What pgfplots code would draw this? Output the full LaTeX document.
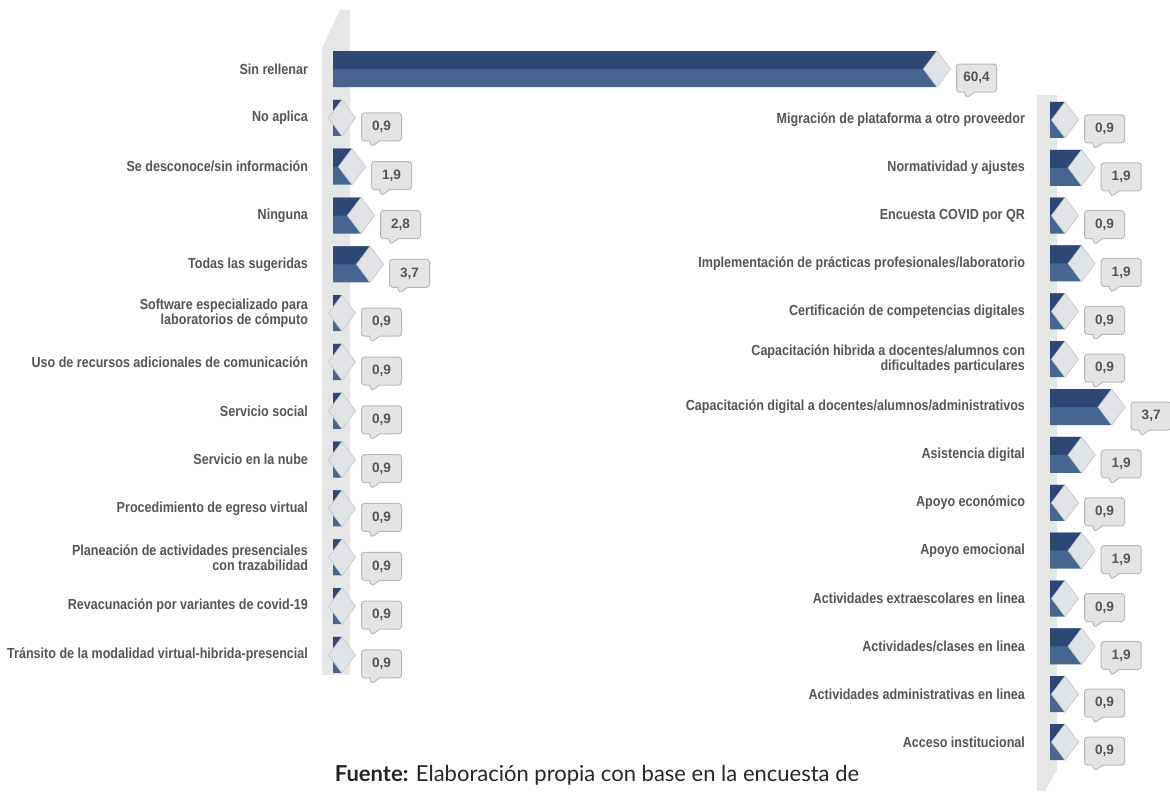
\documentclass[border=0pt]{standalone}
\usepackage{pgfplots}
\pgfplotsset{compat=1.18}
\usepackage{pgfplotstable}
\usepackage{fontspec}
\setmainfont{Liberation Sans}
\newfontfamily\lab[FakeStretch=0.86]{Liberation Sans}
\newfontfamily\lato{Lato}
\usetikzlibrary{shapes.callouts}

\definecolor{bartop}{HTML}{2F4775}
\definecolor{barbot}{HTML}{46668F}
\definecolor{labgray}{HTML}{555555}
\definecolor{wallgray}{HTML}{E6E6E6}
\definecolor{capgray}{HTML}{E2E3E6}
\definecolor{boxgray}{HTML}{E4E4E4}

% left column
\pgfplotstableread{
idx val
0 60.4
1 0.9
2 1.9
3 2.8
4 3.7
5 0.9
6 0.9
7 0.9
8 0.9
9 0.9
10 0.9
11 0.9
12 0.9
}\lefttab

% right column
\pgfplotstableread{
idx val
0 0.9
1 1.9
2 0.9
3 1.9
4 0.9
5 0.9
6 3.7
7 1.9
8 0.9
9 1.9
10 0.9
11 1.9
12 0.9
13 0.9
}\righttab

\pgfplotsset{
  panel/.style={
    xbar, scale only axis, clip=false,
    y dir=reverse, xmin=0, ymin=-0.5,
    axis line style={draw=none}, xtick=\empty,
    major tick length=0pt,
    yticklabel style={font=\lab\bfseries\fontsize{7.3}{7.6}\selectfont,
      text=labgray, align=right, xshift=-9pt},
  },
  capmark/.style={only marks, mark=diamond*, mark size=9pt,
    mark options={fill=capgray, draw=gray!40, line width=0.4pt}},
  lowbar/.style={fill=barbot, draw=none, bar width=18pt, bar shift=0pt,
    nodes near coords={\pgfmathprintnumber[fixed,fixed zerofill,precision=1,use comma,assume math mode=true]{\pgfplotspointmeta}},
    nodes near coords style={shape=rectangle callout,
      callout relative pointer={(-1.5pt,-3pt)}, callout pointer width=5pt,
      fill=boxgray, draw=gray!55, line width=0.5pt, rounded corners=1.5pt,
      minimum width=20pt, minimum height=14pt, inner sep=1pt,
      font=\bfseries\fontsize{6.8}{8}\selectfont, text=labgray,
      anchor=west, xshift=9.5pt, yshift=-4.5pt}},
  highbar/.style={fill=bartop, draw=none, bar width=9pt, bar shift=4.5pt},
}

\begin{document}
\begin{tikzpicture}
\useasboundingbox (0,0) rectangle (585pt,395.5pt);

% walls behind the bars
\fill[wallgray] (161pt,371.5pt) -- (170pt,390.5pt) -- (175pt,390.5pt) -- (175pt,58pt) -- (161pt,58pt) -- cycle;
\fill[wallgray] (518.5pt,348pt) -- (528.5pt,348pt) -- (528.5pt,10.5pt) -- (522.5pt,0pt) -- (518.5pt,0pt) -- cycle;

\begin{axis}[panel,
  at={(166.5pt,373.2pt)}, anchor=north west,
  width=315pt, height=317.4pt,
  xmax=63, ymax=12.5,
  ytick={0,...,12},
  yticklabels={Sin rellenar, No aplica, Se desconoce/sin información, Ninguna,
    Todas las sugeridas, {Software especializado para\\laboratorios de cómputo},
    Uso de recursos adicionales de comunicación, Servicio social,
    Servicio en la nube, Procedimiento de egreso virtual,
    {Planeación de actividades presenciales\\con trazabilidad},
    Revacunación por variantes de covid-19,
    Tránsito de la modalidad virtual-hibrida-presencial},
]
\addplot[capmark] table[x=val, y=idx] {\lefttab};
\addplot[lowbar] table[x=val, y=idx] {\lefttab};
\addplot[highbar] table[x=val, y=idx] {\lefttab};
\end{axis}

\begin{axis}[panel,
  at={(525pt,347.5pt)}, anchor=north west,
  width=50pt, height=335pt,
  xmax=6, ymax=13.5,
  ytick={0,...,13},
  yticklabels={Migración de plataforma a otro proveedor, Normatividad y ajustes,
    Encuesta COVID por QR, Implementación de prácticas profesionales/laboratorio,
    Certificación de competencias digitales,
    {Capacitación hibrida a docentes/alumnos con\\dificultades particulares},
    Capacitación digital a docentes/alumnos/administrativos, Asistencia digital,
    Apoyo económico, Apoyo emocional, Actividades extraescolares en linea,
    Actividades/clases en linea, Actividades administrativas en linea,
    Acceso institucional},
]
\addplot[capmark] table[x=val, y=idx] {\righttab};
\addplot[lowbar] table[x=val, y=idx] {\righttab};
\addplot[highbar] table[x=val, y=idx] {\righttab};
\end{axis}

\node[font=\lato\fontsize{11}{13}\selectfont, text=black!85] at (298.5pt,8pt)
  {\textbf{Fuente:} Elaboración propia con base en la encuesta de};
\end{tikzpicture}
\end{document}
